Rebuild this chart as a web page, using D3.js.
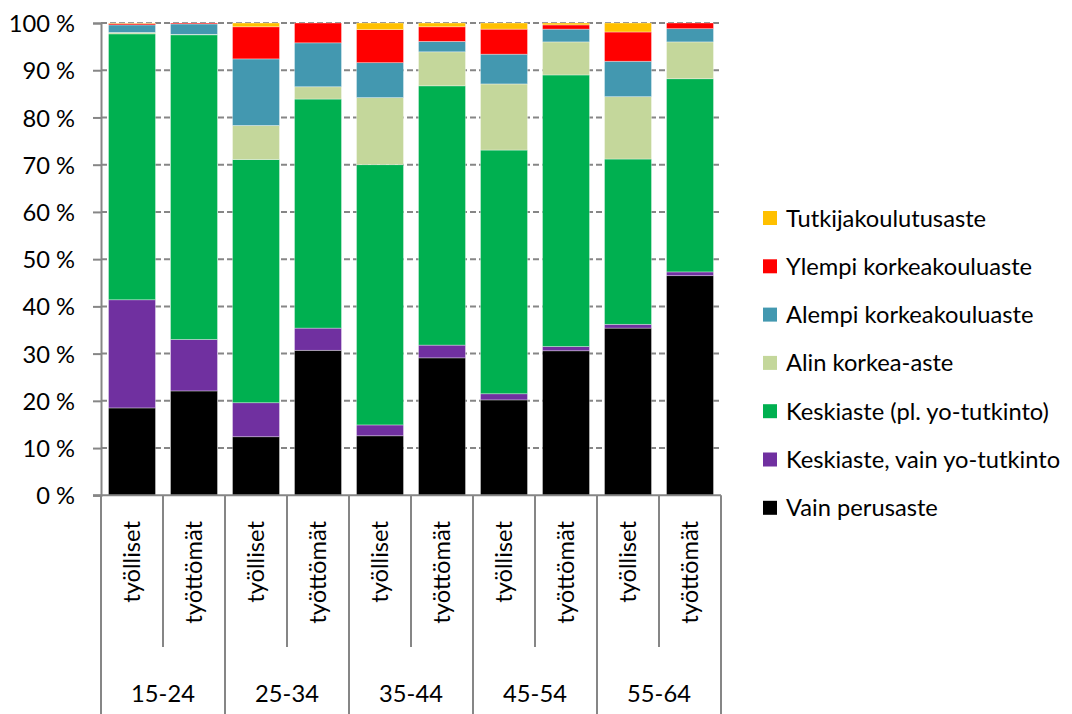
<!DOCTYPE html>
<html><head><meta charset="utf-8">
<script src="https://cdn.jsdelivr.net/npm/d3@7"></script>
<style>body{margin:0;background:#fff}svg{display:block}text{font-family:Lato,"Open Sans",sans-serif;fill:#000}</style>
</head><body>
<svg id="c" width="1072" height="714"></svg>
<script>
const groups = ["15-24","25-34","35-44","45-54","55-64"];
const statuses = ["työlliset","työttömät"];
const seriesNames = ["Vain perusaste","Keskiaste, vain yo-tutkinto","Keskiaste (pl. yo-tutkinto)","Alin korkea-aste","Alempi korkeakouluaste","Ylempi korkeakouluaste","Tutkijakoulutusaste"];
const seriesColors = ["#000000","#7030A0","#00B050","#C4D79B","#4398B0","#FF0000","#FFC000"];
// values per series, in order: 15-24 työlliset, 15-24 työttömät, 25-34 työlliset, ...
const vainPerusaste   = [18.5,22.1,12.4,30.7,12.6,29.1,20.2,30.6,35.4,46.5];
const keskiasteYo     = [22.9,10.9, 7.2, 4.7, 2.3, 2.7, 1.3, 0.9, 0.8, 0.8];
const keskiasteMuu    = [56.3,64.5,51.5,48.5,55.1,54.9,51.6,57.5,35.0,40.9];
const alinKorkea      = [ 0.3, 0.1, 7.2, 2.6,14.2, 7.2,14.0, 7.0,13.2, 7.8];
const alempiKorkea    = [ 1.6, 2.2,14.1, 9.3, 7.4, 2.2, 6.3, 2.7, 7.5, 2.8];
const ylempiKorkea    = [ 0.3, 0.2, 6.8, 4.2, 7.0, 3.1, 5.3, 0.9, 6.2, 1.2];
const tutkija         = [ 0.1, 0.0, 0.8, 0.0, 1.4, 0.8, 1.3, 0.4, 1.9, 0.0];
const yTicks = [0,10,20,30,40,50,60,70,80,90,100];

const seriesValues = [vainPerusaste,keskiasteYo,keskiasteMuu,alinKorkea,alempiKorkea,ylempiKorkea,tutkija];
const cats = [];
groups.forEach(g => statuses.forEach(s => cats.push(g + "|" + s)));
const rows = cats.map((c,i) => {
  const r = {cat:c};
  seriesNames.forEach((n,k) => r[n] = seriesValues[k][i]);
  return r;
});

const FS = 23.7;
const svg = d3.select("#c");
const pLeft = 101, pRight = 721, pTop = 23, pBottom = 495.3;
const x = d3.scaleBand().domain(cats).range([pLeft,pRight]).paddingInner(0.242).paddingOuter(0.121);
const y = d3.scaleLinear().domain([0,100]).range([pBottom,pTop]);

// gridlines
svg.append("g").selectAll("line").data(yTicks.filter(t=>t>0)).join("line")
  .attr("x1",pLeft).attr("x2",pRight-2).attr("y1",d=>y(d)).attr("y2",d=>y(d))
  .attr("stroke","#868686").attr("stroke-width",2).attr("stroke-dasharray","6,3");

// bars
const stack = d3.stack().keys(seriesNames)(rows);
svg.append("g").selectAll("g").data(stack).join("g")
  .attr("fill",(d,i)=>seriesColors[i])
  .selectAll("rect").data(d=>d).join("rect")
  .attr("x",d=>x(d.data.cat)).attr("width",x.bandwidth())
  .attr("y",d=>y(d[1])).attr("height",d=>Math.max(0,y(d[0])-y(d[1])))
  .attr("stroke","#ffffff").attr("stroke-opacity",0.45).attr("stroke-width",0.75);

// y axis
const ya = svg.append("g").attr("transform",`translate(${pLeft},0)`)
  .call(d3.axisLeft(y).tickValues(yTicks).tickFormat(d=>d+" %").tickSize(8).tickPadding(18));
ya.select(".domain").attr("stroke","#868686").attr("stroke-width",2);
ya.selectAll(".tick line").attr("stroke","#868686").attr("stroke-width",2);
ya.selectAll("text").attr("font-size",FS).attr("font-family","Lato").attr("fill","#000").attr("dy","0.36em");

// x axis
svg.append("line").attr("x1",pLeft-8).attr("x2",pRight).attr("y1",pBottom).attr("y2",pBottom)
  .attr("stroke","#868686").attr("stroke-width",2);
const step = x.step();
const groupW = step*2;
// group boundaries
const gb = d3.range(groups.length+1).map(i=>pLeft+i*groupW);
svg.append("g").selectAll("line").data(gb).join("line")
  .attr("x1",d=>d).attr("x2",d=>d).attr("y1",pBottom).attr("y2",714)
  .attr("stroke","#868686").attr("stroke-width",2);
// inner boundaries
svg.append("g").selectAll("line").data(groups).join("line")
  .attr("x1",(d,i)=>pLeft+i*groupW+step).attr("x2",(d,i)=>pLeft+i*groupW+step)
  .attr("y1",pBottom).attr("y2",647)
  .attr("stroke","#868686").attr("stroke-width",2);
// status labels
svg.append("g").selectAll("text").data(cats).join("text")
  .attr("transform",d=>`translate(${x(d)+x.bandwidth()/2+8},521) rotate(-90)`)
  .attr("text-anchor","end").attr("font-size",FS)
  .text(d=>d.split("|")[1]);
// group labels
svg.append("g").selectAll("text").data(groups).join("text")
  .attr("x",(d,i)=>pLeft+i*groupW+groupW/2).attr("y",702)
  .attr("text-anchor","middle").attr("font-size",FS).text(d=>d);

// legend
const legendOrder = seriesNames.map((n,i)=>i).reverse();
const lg = svg.append("g").selectAll("g").data(legendOrder).join("g")
  .attr("transform",(d,i)=>`translate(763,${218+i*48.3})`);
lg.append("rect").attr("x",0).attr("y",-7).attr("width",14).attr("height",14).attr("fill",d=>seriesColors[d]);
lg.append("text").attr("x",23).attr("y",8.5).attr("font-size",FS).text(d=>seriesNames[d]);
</script>
</body></html>
